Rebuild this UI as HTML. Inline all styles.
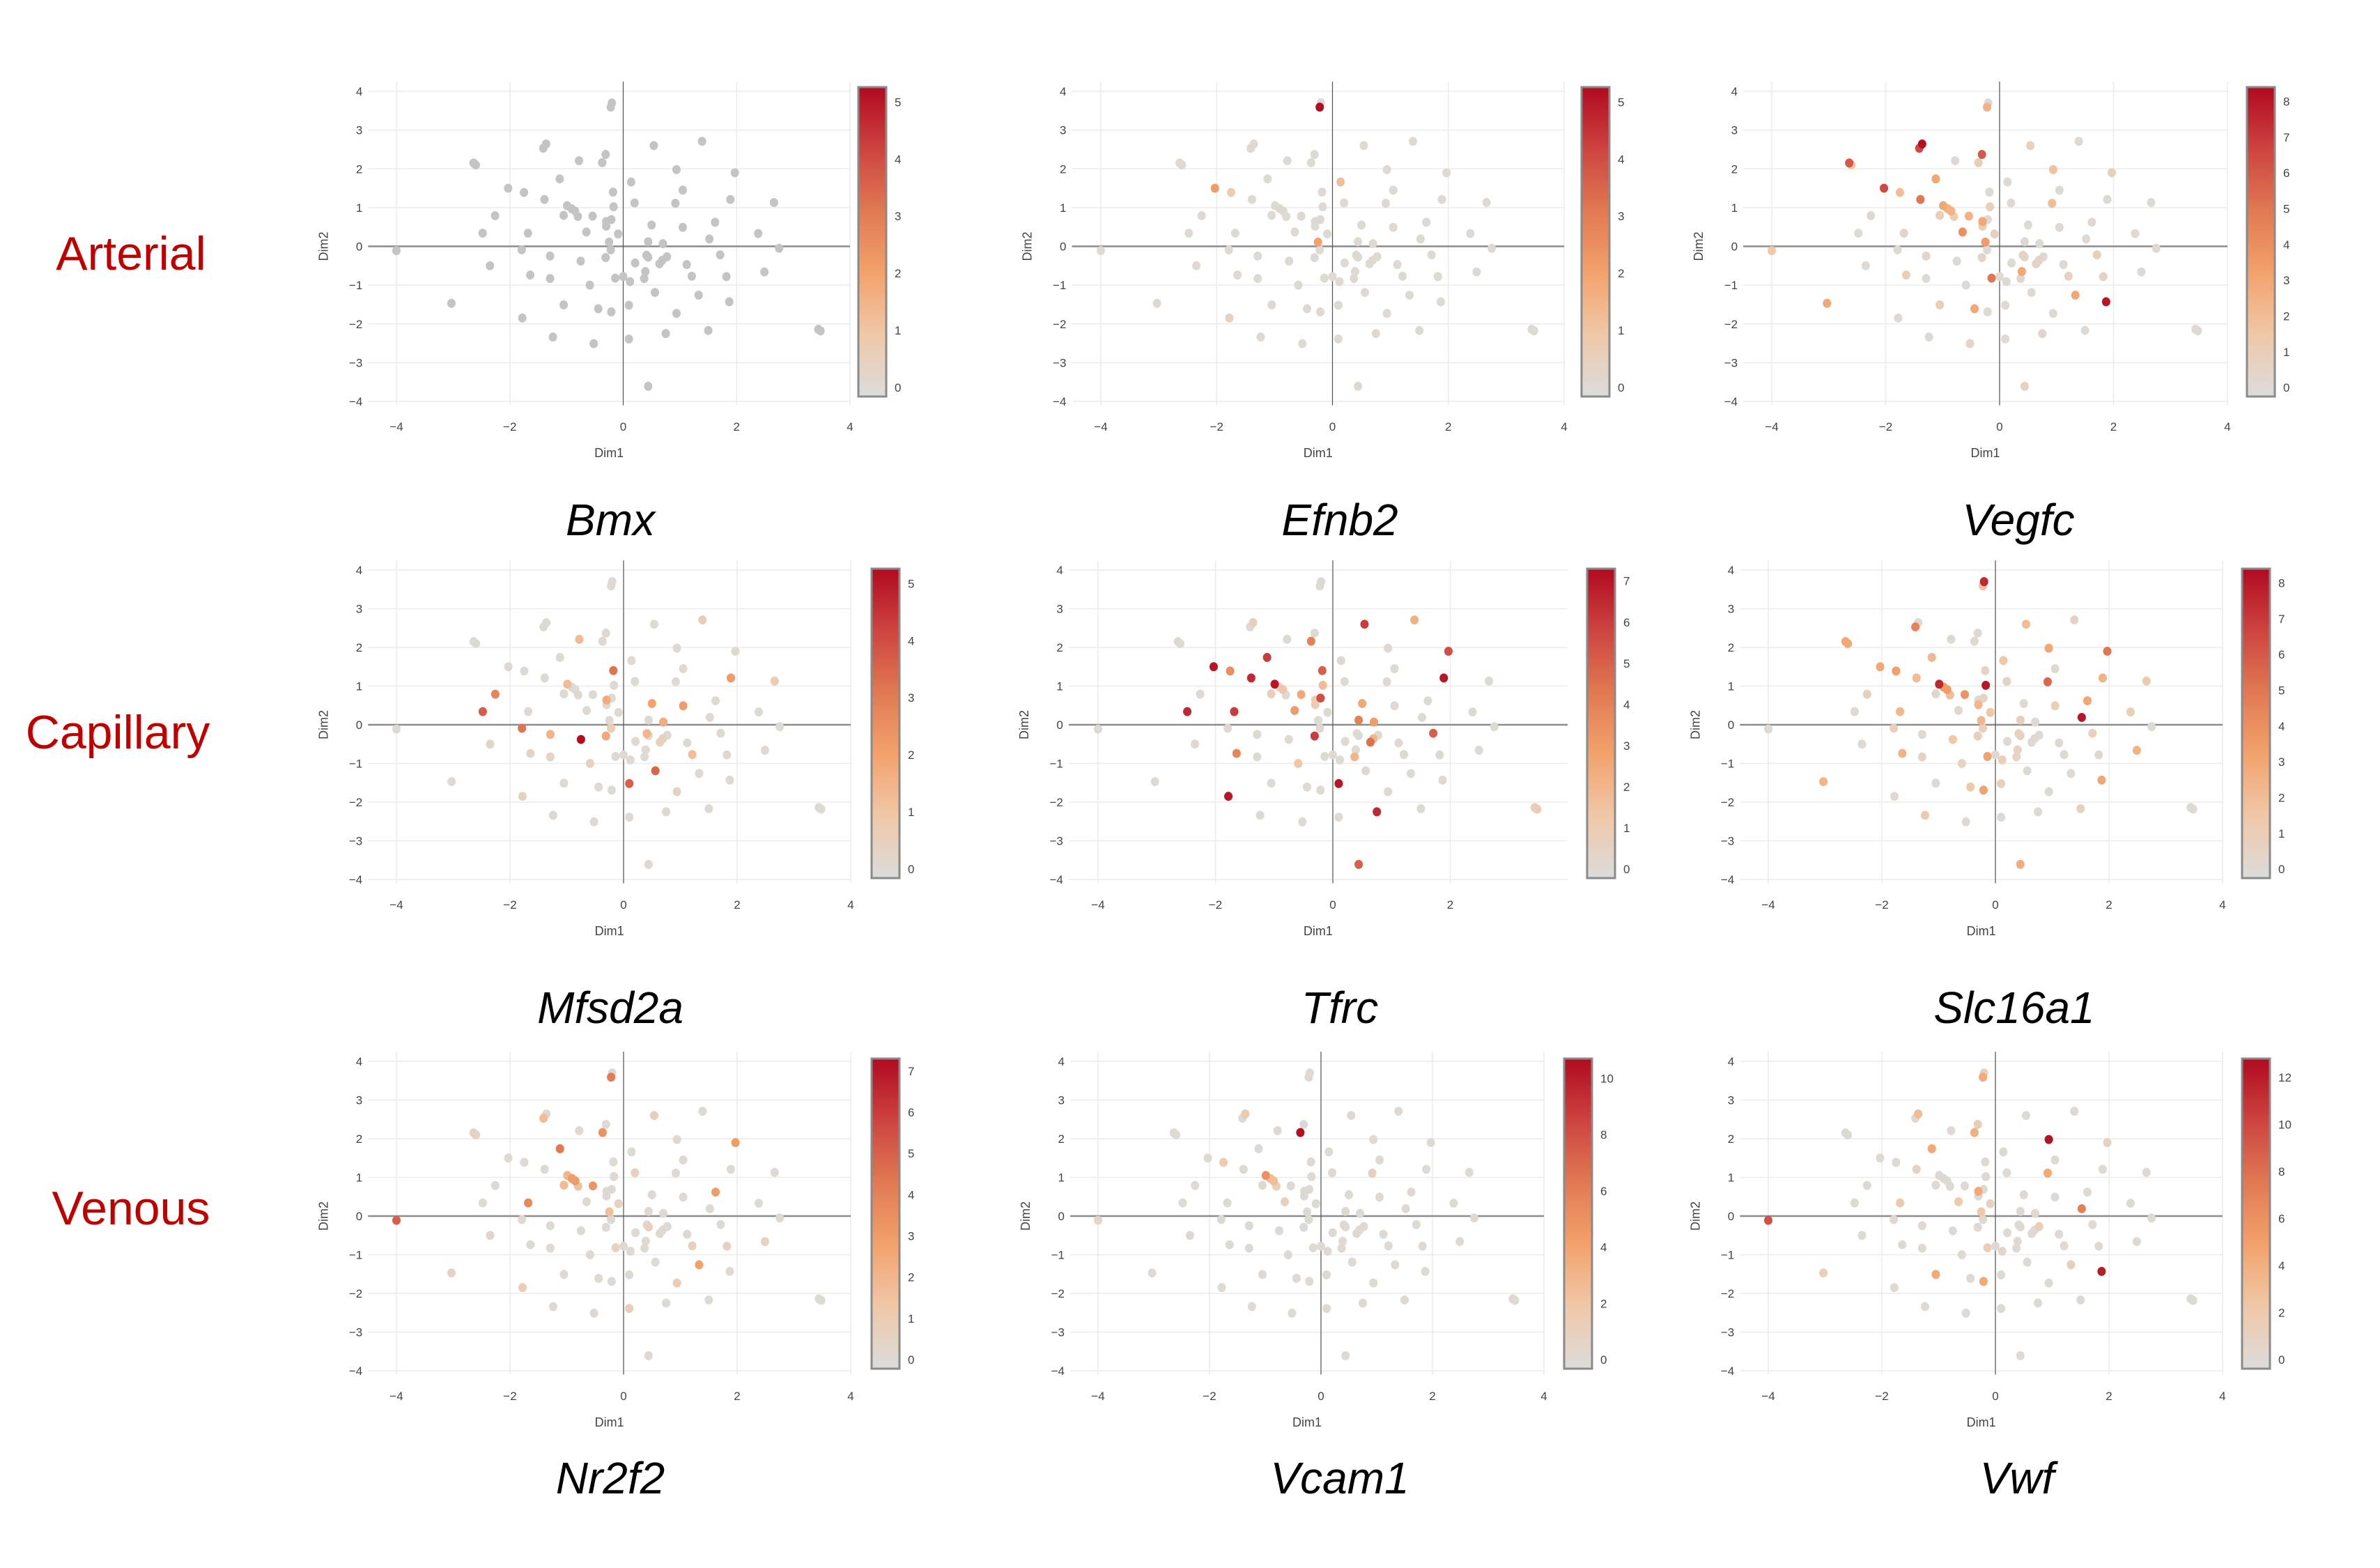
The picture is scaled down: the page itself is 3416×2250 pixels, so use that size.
<!DOCTYPE html>
<html><head><meta charset="utf-8"><style>
html,body{margin:0;padding:0;background:#fff;}
svg{display:block;}
</style></head><body>
<svg id="fig" width="3416" height="2250" viewBox="0 0 3416 2250" xmlns="http://www.w3.org/2000/svg" font-family="Liberation Sans, sans-serif">
<rect x="0" y="0" width="3416" height="2250" fill="#fff"/>
<text x="188" y="387" font-size="68" fill="#c00000" text-anchor="middle">Arterial</text>
<text x="169" y="1074" font-size="68" fill="#c00000" text-anchor="middle">Capillary</text>
<text x="188" y="1757" font-size="68" fill="#c00000" text-anchor="middle">Venous</text>
</svg>
<script>
// shared embedding coordinates
const dim1 = [-0.2,-0.22,-1.36,-1.41,0.54,1.39,-0.31,-0.78,-0.37,-2.64,-2.6,0.94,1.97,-1.12,0.14,-2.03,-1.75,-0.18,1.05,-1.39,1.89,0.2,0.92,2.66,-0.99,-0.17,-0.91,-0.85,-1.05,-0.8,-0.54,-2.26,-0.3,-0.21,-0.3,1.62,0.5,1.05,-0.65,-2.48,-1.68,-0.09,2.38,1.52,-0.25,0.44,0.7,-4.0,-1.79,-0.22,2.75,-1.29,0.41,0.44,0.77,0.69,0.64,1.71,-0.31,-0.75,0.21,-2.35,1.12,2.49,0.39,-1.64,-1.29,-0.14,0.0,0.37,1.21,1.82,0.12,-0.59,0.56,1.33,-3.03,-1.05,-0.44,0.1,-0.21,1.87,0.94,-1.78,1.5,0.75,3.44,3.48,-1.24,0.1,-0.52,0.44];
const dim2 = [3.7,3.59,2.64,2.53,2.6,2.71,2.37,2.21,2.16,2.15,2.1,1.98,1.9,1.74,1.66,1.5,1.39,1.4,1.45,1.21,1.21,1.12,1.11,1.13,1.05,1.02,0.97,0.91,0.8,0.77,0.78,0.79,0.64,0.69,0.52,0.62,0.55,0.49,0.37,0.34,0.34,0.32,0.33,0.19,0.11,0.12,0.07,-0.11,-0.09,-0.09,-0.05,-0.25,-0.23,-0.28,-0.27,-0.36,-0.45,-0.22,-0.29,-0.38,-0.43,-0.5,-0.47,-0.66,-0.65,-0.74,-0.83,-0.82,-0.78,-0.83,-0.77,-0.78,-0.91,-1.0,-1.19,-1.26,-1.47,-1.51,-1.61,-1.52,-1.69,-1.43,-1.73,-1.85,-2.17,-2.25,-2.14,-2.18,-2.34,-2.39,-2.51,-3.61];
// expression: cell indices and values (others 0)
const bmxIdx = [];
const bmxVal = [];
const efnb2Idx = [1,15,16,14,44,83];
const efnb2Val = [5.2,2.2,0.7,1.2,2.0,0.4];
const vegfcIdx = [1,2,3,6,8,9,10,11,12,13,15,16,19,24,26,27,28,29,30,25,22,32,34,38,41,44,47,40,51,58,52,56,55,57,65,67,64,69,70,71,75,81,76,77,78,4,90,91,85];
const vegfcVal = [2.5,8.2,6.5,6,1,6,1.5,1.8,1,3,6.5,2,5,3,2.5,2.5,1,1,2.5,1,2,3,1,4,0.7,3.5,1.5,0.5,0.4,0.5,0.6,0.6,0.5,1,1,5,3,0.3,0.7,0.7,3,8,3,1,3,0.8,0.4,0.7,0.3];
const mfsd2aIdx = [7,5,17,20,23,24,31,32,36,37,39,46,48,49,51,58,52,59,56,55,61,65,66,70,73,74,79,82,83];
const mfsd2aVal = [1.3,0.6,3.2,2.2,0.7,1.3,2.8,1.7,2,2.2,3.7,1.7,3.2,0.7,1.5,1.8,1.5,5.2,0.5,0.5,0.3,0.3,0.3,1.2,0.4,3.5,3.6,0.4,0.4];
const tfrcIdx = [2,4,5,8,12,13,15,16,17,19,20,24,25,26,27,28,30,33,32,34,36,38,39,40,45,46,57,58,56,55,65,69,73,79,83,85,91,86,87];
const tfrcVal = [0.8,6,2.2,4,5.5,6,7,3.5,5,6.5,7,7,1.8,0.5,1.3,0.8,2.5,5.5,1,1,2.5,3,6.5,6,4,3,5,6,4.5,2,3.8,2,1.3,7,7,6.5,5,1,1];
const slc16a1Idx = [0,1,3,4,5,9,10,11,12,13,14,15,16,17,19,20,21,22,23,24,26,27,28,29,30,25,35,37,34,33,38,41,42,31,40,43,44,45,49,48,57,52,53,58,59,63,64,65,66,67,72,69,73,76,78,79,80,81,84,88,91];
const slc16a1Val = [7.5,1.8,4.5,2,0.6,3,3,3,5,2.2,1.5,3,3.3,0.5,2,2.5,0.6,5.5,1.3,7.5,3.5,3.5,0.3,2,3.8,8,3,1,2.3,0.5,0.2,1.5,1,0.8,2.2,8,2.2,1,0.8,0.8,0.7,0.8,0.8,0.8,1.5,2.5,0.6,2.5,0.6,3.2,1,0.5,0.5,2.4,1.3,1,3.2,3,0.7,1.3,2.7];
const nr2f2Idx = [1,3,4,8,9,10,12,13,21,24,26,27,28,29,30,35,40,41,44,47,53,61,63,67,70,71,75,76,82,83,89];
const nr2f2Val = [4.2,1.8,0.8,3.4,0.5,0.5,3,4.3,0.7,2,3,3,1.8,1.5,3.3,3,3.7,0.5,1.6,5,0.7,0.3,0.6,0.6,0.7,0.5,2.8,0.5,1,1,0.8];
const vcam1Idx = [2,8,16,24,26,27,29,38,22,47];
const vcam1Val = [1.5,10.5,1.5,5,2.5,2.5,1,1,1,0.5];
const vwfIdx = [0,1,2,6,8,11,12,13,19,22,43,32,38,40,41,44,47,54,67,72,75,76,77,80,81];
const vwfVal = [1,4.2,3,1.5,4,12.5,1,4.5,1,4.5,7,4.5,2,2,1,2,9.5,1.5,1.5,0.5,1.5,1.5,4.5,4.5,12];
// colorbar settings per panel
const cbMax = [5.26,5.26,8.4,5.26,7.3,8.4,7.3,10.7,12.8];
const cbStep = [1,1,1,1,1,1,1,2,2];
const geneNames = ["Bmx","Efnb2","Vegfc","Mfsd2a","Tfrc","Slc16a1","Nr2f2","Vcam1","Vwf"];
const xTickVals = [-4,-2,0,2,4];
const yTickVals = [-4,-3,-2,-1,0,1,2,3,4];

const exprIdx = [bmxIdx,efnb2Idx,vegfcIdx,mfsd2aIdx,tfrcIdx,slc16a1Idx,nr2f2Idx,vcam1Idx,vwfIdx];
const exprVal = [bmxVal,efnb2Val,vegfcVal,mfsd2aVal,tfrcVal,slc16a1Val,nr2f2Val,vcam1Val,vwfVal];

// layout (pixels)
const layout = [
 {xa:569,xb:1220,ya:131,yb:576,cbx:1232,cbt:125,cbb:569,gx:876,gy:768,grey:true},
 {xa:1580,xb:2245,ya:131,yb:576,cbx:2270,cbt:125,cbb:569,gx:1923,gy:768},
 {xa:2543,xb:3197,ya:131,yb:576,cbx:3225,cbt:125,cbb:569,gx:2897,gy:768},
 {xa:569,xb:1221,ya:818,yb:1262,cbx:1251,cbt:816,cbb:1260,gx:876,gy:1468},
 {xa:1576,xb:2250,ya:818,yb:1262,cbx:2278,cbt:816,cbb:1260,gx:1923,gy:1468,no4:true},
 {xa:2538,xb:3190,ya:818,yb:1262,cbx:3218,cbt:816,cbb:1260,gx:2891,gy:1468},
 {xa:569,xb:1221,ya:1523,yb:1967,cbx:1251,cbt:1519,cbb:1964,gx:876,gy:2143},
 {xa:1576,xb:2216,ya:1523,yb:1967,cbx:2245,cbt:1519,cbb:1964,gx:1923,gy:2143},
 {xa:2538,xb:3190,ya:1523,yb:1967,cbx:3218,cbt:1519,cbb:1964,gx:2895,gy:2143}
];
const stops = [[0,[220,220,220]],[0.2,[240,200,168]],[0.4,[243,162,108]],[0.6,[225,121,83]],[0.8,[205,68,64]],[1,[177,10,32]]];
function colorAt(t){
  t=Math.max(0,Math.min(1,t));
  for(let i=1;i<stops.length;i++){
    if(t<=stops[i][0]){
      const a=stops[i-1],b=stops[i],f=(t-a[0])/(b[0]-a[0]);
      const c=a[1].map((v,k)=>Math.round(v+(b[1][k]-v)*f));
      return 'rgb('+c.join(',')+')';
    }
  }
  return 'rgb(177,10,32)';
}
const NS='http://www.w3.org/2000/svg';
const svg=document.getElementById('fig');
function mk(tag,attrs,parent){const e=document.createElementNS(NS,tag);for(const k in attrs)e.setAttribute(k,attrs[k]);parent.appendChild(e);return e;}

layout.forEach((L,p)=>{
  const g=mk('g',{},svg);
  
  
  const ux=(L.xb-L.xa)/8, uy=(L.yb-L.ya)/8;
  const sx=v=>L.xa+(v+4)*ux;
  const sy=v=>L.ya+(4-v)*uy;
  const left=sx(-4.5), right=sx(4.0), top=sy(4.25), bot=sy(-4.1);
  // grid
  xTickVals.forEach(v=>{ if(!(L.no4&&v===4)){const l=mk('line',{x1:sx(v),x2:sx(v),y1:top,y2:bot,stroke:'#ebebeb','stroke-width':1.5},g);
    
    }});
  yTickVals.forEach(v=>{const l=mk('line',{x1:left,x2:right,y1:sy(v),y2:sy(v),stroke:'#ebebeb','stroke-width':1.5},g);
    
    });
  const zx=mk('line',{x1:left,x2:right,y1:sy(0),y2:sy(0),stroke:'#8c8c8c','stroke-width':2.5},g);
  
  
  const zy=mk('line',{x1:sx(0),x2:sx(0),y1:top,y2:bot,stroke:'#555','stroke-width':1.2},g);
  
  
  // tick labels
  xTickVals.forEach(v=>{ if(L.no4&&v===4) return;
    const t=mk('text',{x:sx(v),y:L.yb+42,'font-size':17,fill:'#444','text-anchor':'middle'},g);
    t.textContent=(v<0?'\u2212'+(-v):''+v);
    
    });
  yTickVals.forEach(v=>{
    const t=mk('text',{x:left-8,y:sy(v)+6,'font-size':17,fill:'#444','text-anchor':'end'},g);
    t.textContent=(v<0?'\u2212'+(-v):''+v);
    
    });
  const xt=mk('text',{x:sx(-0.25),y:L.yb+80,'font-size':18,fill:'#444','text-anchor':'middle'},g);
  xt.textContent='Dim1';
  
  
  const yx=left-58, yy=sy(0);
  const yt=mk('text',{x:yx,y:yy,'font-size':18,fill:'#444','text-anchor':'middle',transform:'rotate(-90 '+yx+' '+yy+')'},g);
  yt.textContent='Dim2';
  
  
  // values
  const vals=dim1.map(()=>0);
  exprIdx[p].forEach((ix,k)=>{vals[ix]=exprVal[p][k];});
  const order=dim1.map((_,i)=>i).sort((a,b)=>vals[a]-vals[b]);
  const cmin=-0.03*cbMax[p];
  order.forEach(i=>{
    const fill=L.grey?'#c4c4c4':colorAt((vals[i]-cmin)/(cbMax[p]-cmin));
    const c=mk('ellipse',{cx:sx(dim1[i]),cy:sy(dim2[i]),rx:6,ry:6.5,fill:fill},g);
    
    
  });
  // colorbar
  const gid='cbg'+p;
  const defs=mk('defs',{},g);
  const lg=mk('linearGradient',{id:gid,x1:0,y1:1,x2:0,y2:0},defs);
  stops.forEach(s=>mk('stop',{offset:s[0],'stop-color':'rgb('+s[1].join(',')+')'},lg));
  const cb=mk('rect',{x:L.cbx,y:L.cbt,width:40,height:L.cbb-L.cbt,fill:'url(#'+gid+')',stroke:'#8a8a8a','stroke-width':3},g);
  
  
  const cy=v=>L.cbb-(v-cmin)/(cbMax[p]-cmin)*(L.cbb-L.cbt);
  for(let v=0;v<=cbMax[p];v+=cbStep[p]){
    const t=mk('text',{x:L.cbx+52,y:cy(v)+6,'font-size':17,fill:'#444'},g);
    t.textContent=''+v;
    
    
  }
  const gt=mk('text',{x:L.gx,y:L.gy,'font-size':64,'font-style':'italic',fill:'#000','text-anchor':'middle'},g);
  gt.textContent=geneNames[p];
  
  
});
</script>
</body></html>
